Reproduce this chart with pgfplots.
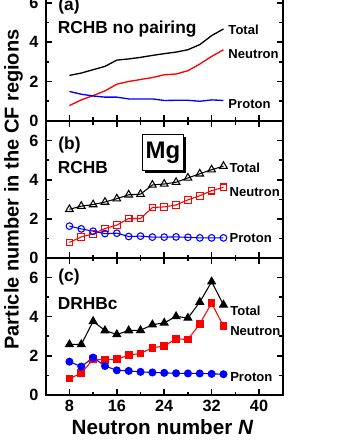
\documentclass[border=0pt]{standalone}
\usepackage{fontspec}
\setmainfont{Liberation Sans}
\usepackage{pgfplots}
\pgfplotsset{compat=1.18}
\usetikzlibrary{shadows}
\definecolor{pred}{RGB}{255,0,0}
\definecolor{pblue}{RGB}{0,0,255}
\pgfplotsset{
  panel/.style={
    scale only axis, width=177.75pt, height=102.9pt,
    xmin=4, xmax=44, ymin=0, ymax=7,
    xtick={8,16,24,32,40}, minor xtick={12,20,28,36},
    ytick={0,2,4,6}, minor ytick={1,3,5},
    tick align=inside, xtick pos=both, ytick pos=both,
    major tick length=4.5pt, minor tick length=2.6pt,
    axis line style={line width=1.4pt},
    every tick/.style={line width=1.2pt, black},
    tick label style={font=\bfseries\fontsize{12.2}{14}\selectfont},
    yticklabel style={xshift=-2pt},
    /pgf/number format/assume math mode=true,
    clip=false,
  },
}
\tikzset{
  lab/.style={font=\bfseries\fontsize{9.8}{11}\selectfont, anchor=west, inner sep=0pt},
  plab/.style={font=\bfseries\fontsize{13}{15}\selectfont, anchor=west, inner sep=0pt},
}
\begin{document}
\begin{tikzpicture}[x=1pt,y=1pt]
% ---------- panel (a)
\begin{axis}[panel, at={(34.3pt,-90.5pt)}, anchor=south west, xticklabels={}]
\addplot[black, line width=1pt] coordinates {(8,2.31)(10,2.43)(12,2.6)(14,2.77)(16,3.09)(18,3.15)(20,3.23)(22,3.33)(24,3.42)(26,3.5)(28,3.62)(30,3.88)(32,4.34)(34,4.68)};
\addplot[pred, line width=1pt] coordinates {(8,0.77)(10,1.06)(12,1.28)(14,1.52)(16,1.86)(18,2.0)(20,2.1)(22,2.2)(24,2.34)(26,2.38)(28,2.55)(30,2.89)(32,3.28)(34,3.62)};
\addplot[pblue, line width=1pt] coordinates {(8,1.49)(10,1.35)(12,1.26)(14,1.2)(16,1.2)(18,1.11)(20,1.11)(22,1.11)(24,1.03)(26,1.04)(28,1.04)(30,0.99)(32,1.06)(34,1.03)};
\node[lab] at (axis cs:34.8,4.65) {Total};
\node[lab] at (axis cs:34.8,3.42) {Neutron};
\node[lab] at (axis cs:34.8,0.86) {Proton};
\node[plab] at (axis cs:6.1,5.85) {(a)};
\node[plab] at (axis cs:6.0,4.65) {RCHB no pairing};
\end{axis}
% ---------- panel (b)
\begin{axis}[panel, at={(34.3pt,-193.7pt)}, anchor=south west, xticklabels={}]
\addplot[black, line width=0.8pt, mark=triangle, mark size=3.3pt, mark options={solid, line width=0.8pt}] coordinates {(8,2.5)(10,2.66)(12,2.74)(14,2.87)(16,3.04)(18,3.24)(20,3.27)(22,3.74)(24,3.79)(26,3.88)(28,4.1)(30,4.31)(32,4.52)(34,4.7)};
\addplot[pred, line width=0.8pt, mark=square, mark size=2.5pt, mark options={solid, line width=0.8pt}] coordinates {(8,0.81)(10,1.09)(12,1.24)(14,1.52)(16,1.69)(18,2.03)(20,2.03)(22,2.59)(24,2.62)(26,2.72)(28,2.98)(30,3.19)(32,3.45)(34,3.62)};
\addplot[pblue, line width=0.8pt, mark=o, mark size=2.5pt, mark options={solid, line width=0.8pt}] coordinates {(8,1.64)(10,1.5)(12,1.38)(14,1.26)(16,1.28)(18,1.11)(20,1.13)(22,1.08)(24,1.08)(26,1.09)(28,1.07)(30,1.04)(32,1.04)(34,1.04)};
\node[lab] at (axis cs:35.0,4.59) {Total};
\node[lab] at (axis cs:35.0,3.39) {Neutron};
\node[lab] at (axis cs:35.0,1.01) {Proton};
\node[plab] at (axis cs:6.1,5.8) {(b)};
\node[plab] at (axis cs:6.0,4.65) {RCHB};
\node[draw, line width=1pt, fill=white, inner sep=0pt, minimum width=31pt, minimum height=27pt,
      font=\bfseries\fontsize{18}{20}\selectfont,
      drop shadow={shadow xshift=1.6pt, shadow yshift=-1.6pt, fill=black, opacity=1}]
      at (axis cs:23.8,5.4) {Mg};
\end{axis}
% ---------- panel (c)
\begin{axis}[panel, at={(34.3pt,-296.25pt)}, anchor=south west]
\addplot[black, line width=0.8pt, mark=triangle*, mark size=3.3pt, mark options={solid}] coordinates {(8,2.58)(10,2.58)(12,3.76)(14,3.29)(16,3.09)(18,3.29)(20,3.3)(22,3.59)(24,3.68)(26,4.01)(28,3.93)(30,4.74)(32,5.78)(34,4.6)};
\addplot[pred, line width=0.8pt, mark=square*, mark size=2.5pt, mark options={solid}] coordinates {(8,0.84)(10,1.11)(12,1.82)(14,1.79)(16,1.82)(18,2.04)(20,2.12)(22,2.41)(24,2.5)(26,2.87)(28,2.83)(30,3.63)(32,4.69)(34,3.51)};
\addplot[pblue, line width=0.8pt, mark=*, mark size=2.6pt, mark options={solid}] coordinates {(8,1.7)(10,1.45)(12,1.91)(14,1.48)(16,1.26)(18,1.23)(20,1.18)(22,1.15)(24,1.13)(26,1.11)(28,1.1)(30,1.1)(32,1.08)(34,1.06)};
\node[lab] at (axis cs:35.1,4.29) {Total};
\node[lab] at (axis cs:35.1,3.27) {Neutron};
\node[lab] at (axis cs:35.1,0.9) {Proton};
\node[plab] at (axis cs:6.1,6.0) {(c)};
\node[plab] at (axis cs:6.0,4.68) {DRHBc};
\end{axis}
% ---------- axis titles
\node[rotate=90, anchor=base, font=\bfseries\fontsize{15}{17}\selectfont] at (13.9pt,-142.1pt) {Particle number in the CF regions};
\node[anchor=base, font=\bfseries\fontsize{15.5}{18}\selectfont] at (121.9pt,-326.2pt) {Neutron number \textit{N}};
% ---------- crop as in the reference
\pgfresetboundingbox
\path[use as bounding box] (0pt,0pt) rectangle (255pt,-330pt);
\end{tikzpicture}
\end{document}
